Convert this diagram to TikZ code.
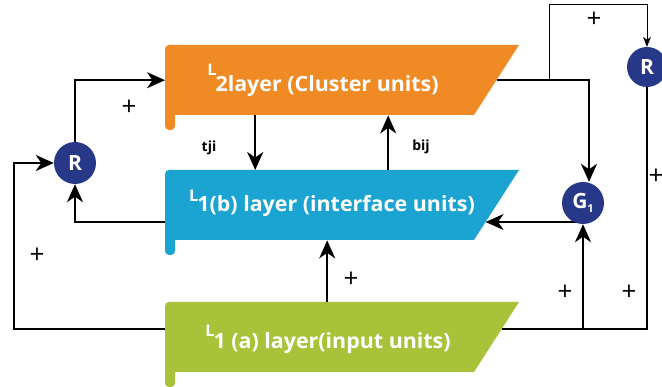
\documentclass[tikz,border=0pt]{standalone}
\usepackage{fontspec}
\usepackage{graphicx}
\setmainfont{Open Sans}
\usetikzlibrary{arrows.meta,calc}
\definecolor{orangeC}{HTML}{EF8A24}
\definecolor{blueC}{HTML}{1BA3D2}
\definecolor{greenC}{HTML}{A8C23A}
\definecolor{navyC}{HTML}{263887}
\pgfdeclarelayer{fg}
\pgfsetlayers{main,fg}
\newcommand\Lsup[1]{\raisebox{#1pt}{\fontsize{16}{16}\selectfont L}\kern-1pt}
\newcommand\layershape[2]{%
  \fill[#1] (170,#2) -- (519,#2) -- (474,#2+70) -- (170,#2+70) -- cycle;
  \fill[#1, rounded corners=4pt] (165,#2) rectangle (175,#2+85);
}
\begin{document}
\begin{tikzpicture}[x=1pt,y=-1pt,
  conn/.style={line width=2pt, black},
  arr/.style={conn, -{Stealth[length=18pt,width=16pt,inset=5.5pt]}},
  thinarr/.style={line width=1pt, black, -{Stealth[length=10pt,width=8pt,inset=3pt]}},
  circ/.style={circle, fill=navyC, minimum size=42pt, inner sep=0pt, text=white, font=\bfseries\fontsize{21}{21}\selectfont},
  boxanchor/.style={inner sep=0pt, minimum width=354pt, minimum height=70pt, anchor=north west},
  layertext/.style={text=white, inner sep=0pt, anchor=base, font=\bfseries\fontsize{21}{21}\selectfont},
  plus/.style={font=\fontsize{26}{26}\selectfont, inner sep=0pt},
  lbl/.style={font=\bfseries\fontsize{14}{14}\selectfont, inner sep=0pt}
]
\useasboundingbox (0,0) rectangle (662,387);
\fill[white] (0,0) rectangle (662,387);

% layer boxes
\layershape{orangeC}{45}
\layershape{blueC}{170}
\layershape{greenC}{302}
\node[boxanchor] (L2) at (165,45) {};
\node[boxanchor] (L1b) at (165,170) {};
\node[boxanchor] (L1a) at (165,302) {};
\node[layertext] (t2) at (323,92) {\scalebox{1.02}[1]{\Lsup{16}2layer (Cluster units)}};
\node[layertext] (t1b) at (332,212) {\scalebox{1.02}[1]{\Lsup{10}1(b) layer (interface units)}};
\node[layertext] (t1a) at (328,349) {\scalebox{1.02}[1]{\Lsup{12}1 (a) layer(input units)}};

% circles on top
\begin{pgfonlayer}{fg}
\node[circ] (Rl) at (75,163) {R};
\node[circ, minimum size=40pt] (Rr) at (647,67) {R};
\node[circ] (G1) at (583,203) {G\raisebox{-4pt}{\fontsize{11}{11}\selectfont 1}};
\end{pgfonlayer}

% edge points
\coordinate (aW) at (165,329);
\coordinate (bW) at (165,222);
\coordinate (L2r) at (496.5,80);
\coordinate (tb) at (549,80);
\coordinate (L1br) at (485.6,222);
\coordinate (L1ar) at (502,329);

% connectors
\draw[arr] (Rl.north) |- (L2.west);
\draw[arr] (aW) -- ++(-151,0) |- (Rl.west);
\draw[arr] (bW) -| (Rl.south);
\draw[arr] ([xshift=-87pt]L2.south) -- ([xshift=-87pt]L1b.north);
\draw[arr] ([xshift=46pt]L1b.north) -- ([xshift=46pt]L2.south);
\draw[arr] ([xshift=-15pt]L1a.north) -- ([xshift=-15pt]L1b.south);
\draw[arr] (L2r) -| ([xshift=6pt]G1.north);
\draw[thinarr] (tb) -- ++(0,-75) -| (Rr.north);
\draw[arr] (G1 |- L1br) -- (L1br);
\draw[conn] (L1ar) -| (Rr.south);
\draw[arr] (L1ar -| G1.south) -- (G1.south);

% labels
\node[lbl] (tji) at (209,148) {tji};
\node[lbl] (bij) at (421,147) {bij};
\node[plus] (p1) at (129,108) {+};
\node[plus] (p2) at (594,20) {+};
\node[plus] (p3) at (37,256) {+};
\node[plus] (p4) at (351,280) {+};
\node[plus] (p5) at (565,293) {+};
\node[plus] (p6) at (629,293) {+};
\node[plus] (p7) at (656,177) {+};
\end{tikzpicture}
\end{document}
